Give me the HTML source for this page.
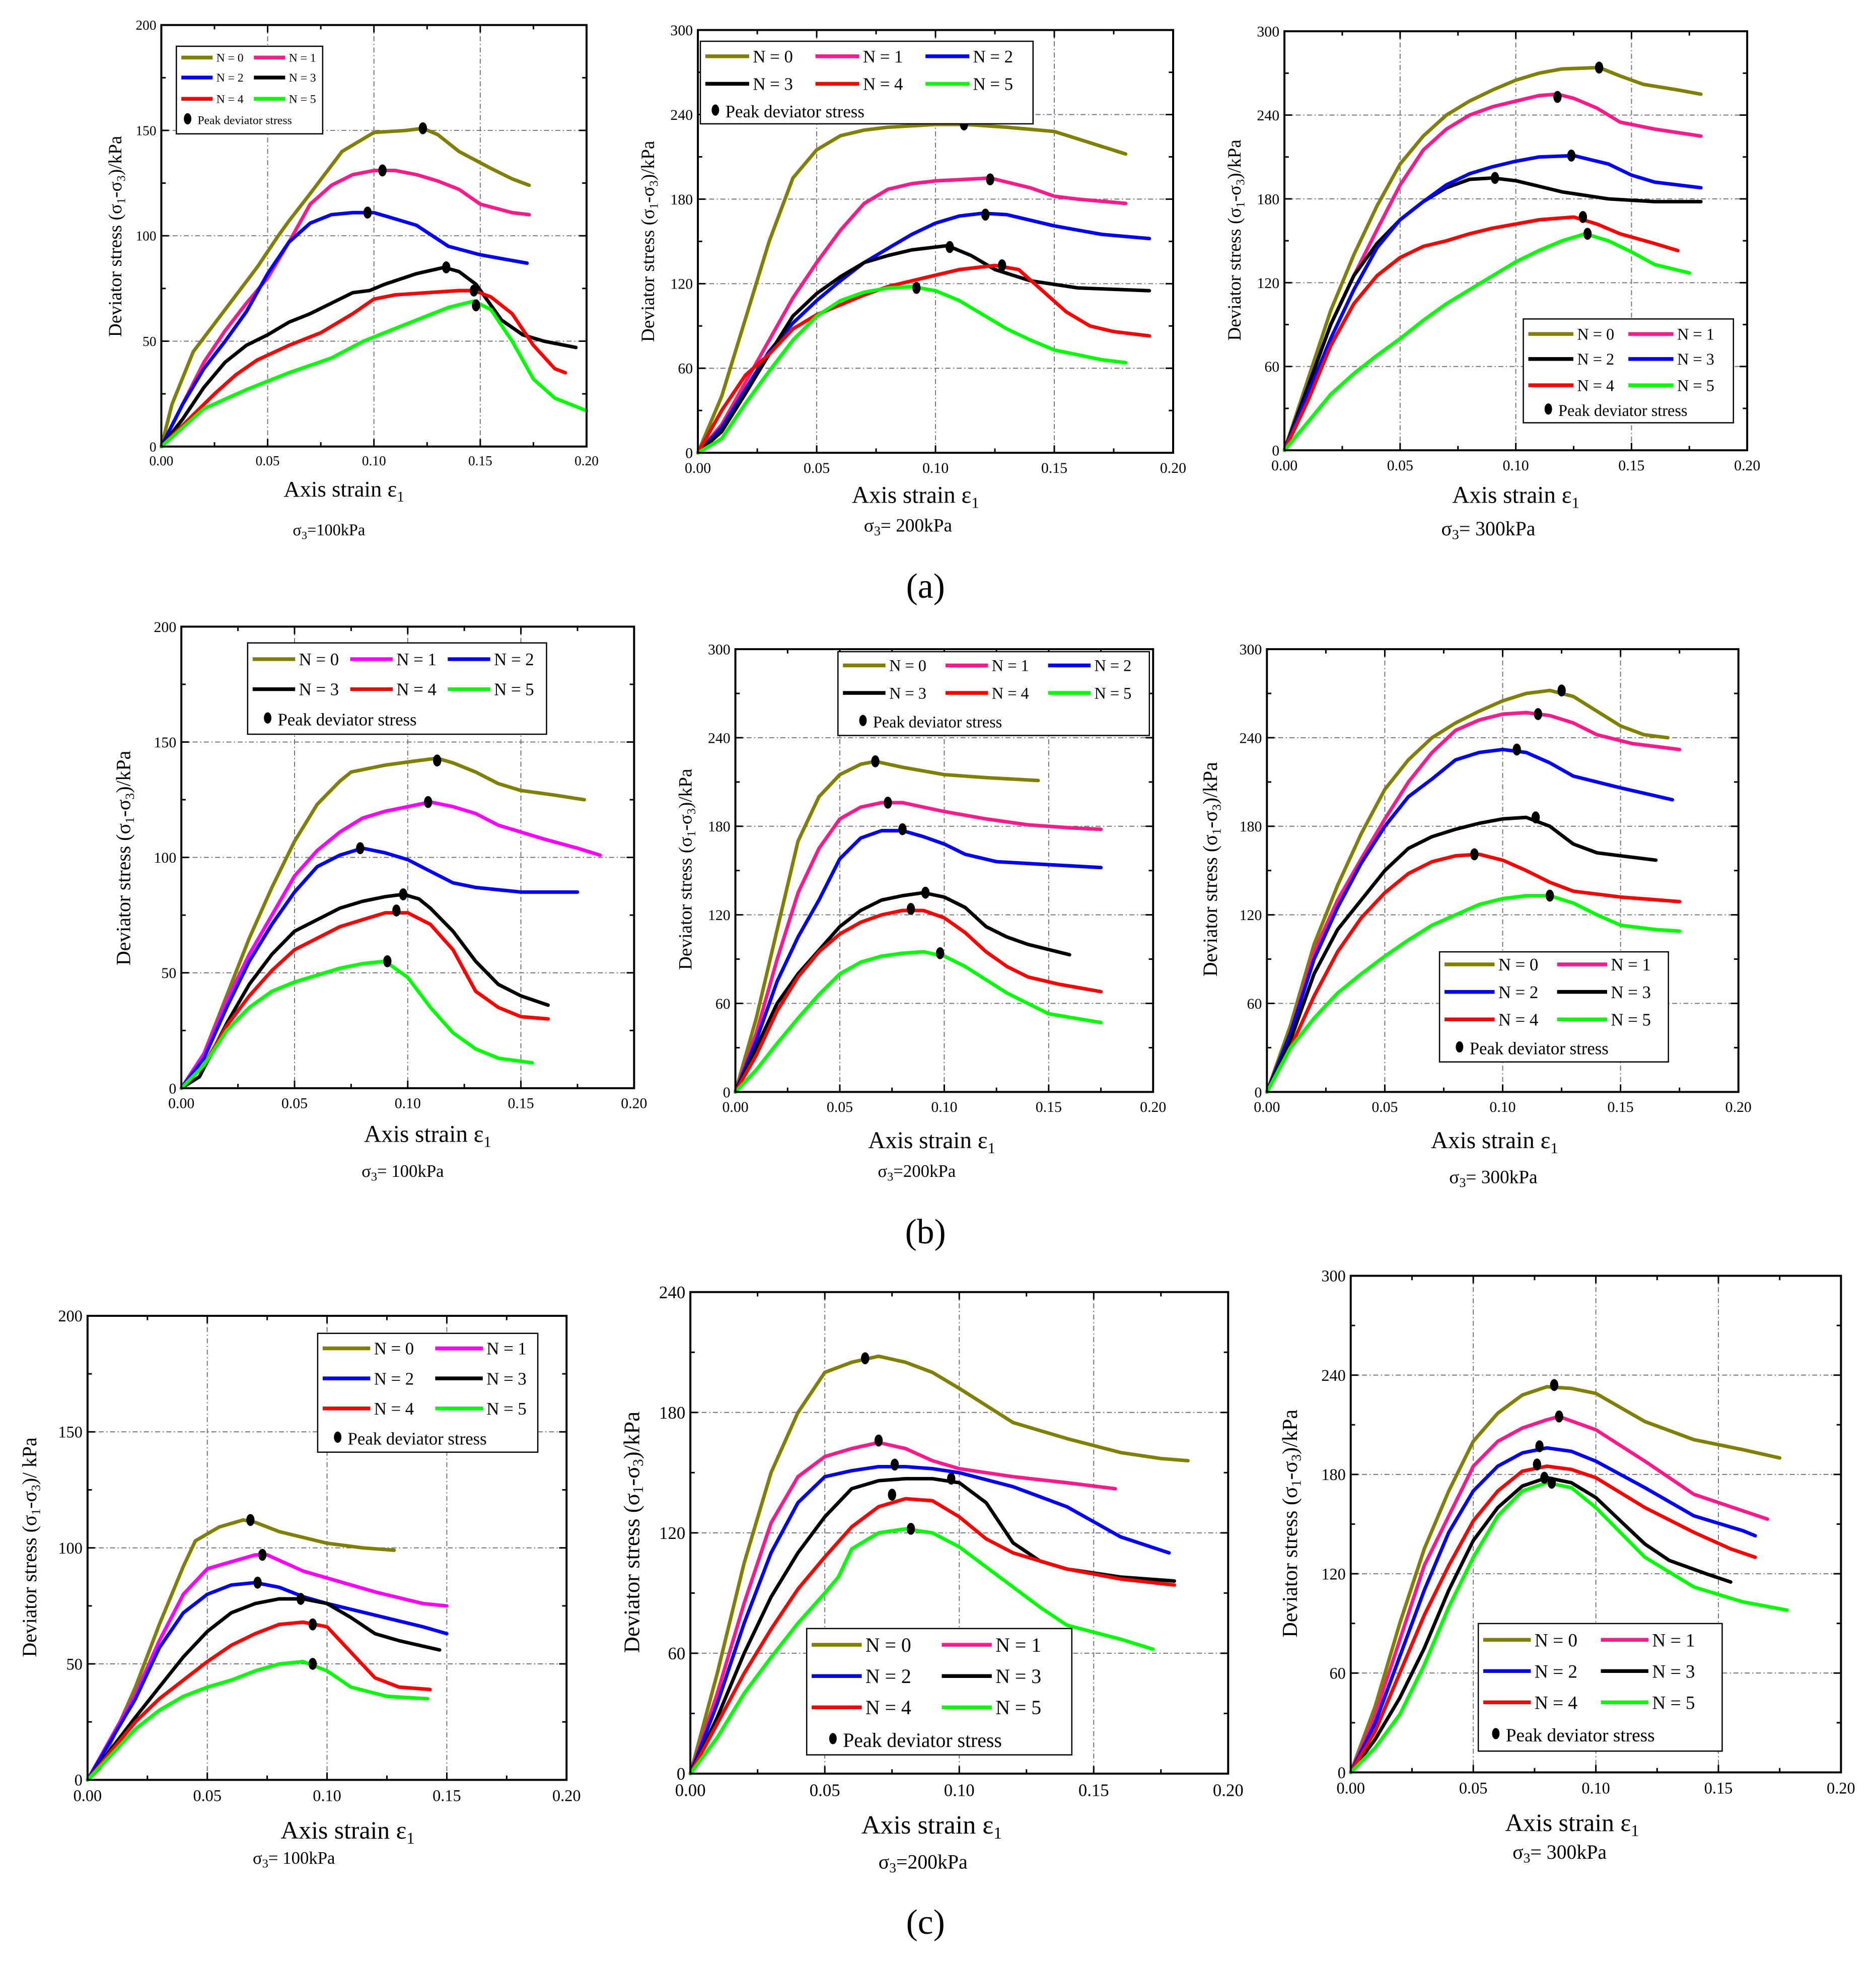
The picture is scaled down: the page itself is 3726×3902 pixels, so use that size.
<!DOCTYPE html>
<html><head><meta charset="utf-8"><style>html,body{margin:0;padding:0;background:#fff}svg{display:block}</style></head>
<body>
<svg id="fig" xmlns="http://www.w3.org/2000/svg" width="3726" height="3902" viewBox="0 0 1500 1571" preserveAspectRatio="none" font-family="'Liberation Serif', serif">
<rect width="1500" height="1571" fill="#fff"/>
</svg>
<script>
// ===== data: [strain, deviator stress] =====
const a1_N0=[[0,0],[0.005,20],[0.015,45],[0.03,65],[0.045,85],[0.055,100],[0.06,107],[0.07,120],[0.085,140],[0.1,149],[0.115,150],[0.123,151],[0.13,148],[0.14,140],[0.155,132],[0.165,127],[0.173,124]];
const a1_N1=[[0,0],[0.01,20],[0.02,40],[0.03,55],[0.04,68],[0.05,80],[0.06,97],[0.07,115],[0.08,124],[0.09,129],[0.1,131],[0.11,131],[0.12,129],[0.13,126],[0.14,122],[0.15,115],[0.165,111],[0.173,110]];
const a1_N2=[[0,0],[0.01,20],[0.02,37],[0.03,50],[0.04,64],[0.05,82],[0.06,97],[0.07,106],[0.08,110],[0.09,111],[0.1,111],[0.11,108],[0.12,105],[0.135,95],[0.15,91],[0.172,87]];
const a1_N3=[[0,0],[0.01,13],[0.02,28],[0.03,40],[0.04,48],[0.05,53],[0.06,59],[0.07,63],[0.08,68],[0.09,73],[0.098,74],[0.105,77],[0.12,82],[0.133,85],[0.14,83],[0.148,77],[0.16,60],[0.17,53],[0.18,50],[0.195,47]];
const a1_N4=[[0,0],[0.015,15],[0.025,25],[0.035,34],[0.045,41],[0.06,48],[0.075,54],[0.09,63],[0.1,70],[0.11,72],[0.14,74],[0.147,74],[0.155,71],[0.165,63],[0.175,48],[0.185,37],[0.19,35]];
const a1_N5=[[0,0],[0.02,18],[0.04,27],[0.06,35],[0.08,42],[0.095,50],[0.11,56],[0.125,62],[0.135,66],[0.147,69],[0.155,65],[0.165,50],[0.175,32],[0.185,23],[0.2,17]];
const a1_peaks=[[0.123,151],[0.104,131],[0.097,111],[0.134,85],[0.147,74],[0.148,67]];

const a2_N0=[[0,0],[0.01,40],[0.02,95],[0.03,150],[0.04,195],[0.05,215],[0.06,225],[0.07,229],[0.08,231],[0.1,233],[0.113,233],[0.13,231],[0.15,228],[0.165,220],[0.18,212]];
const a2_N1=[[0,0],[0.01,20],[0.02,50],[0.03,80],[0.04,110],[0.05,135],[0.06,158],[0.07,177],[0.08,187],[0.09,191],[0.1,193],[0.123,195],[0.14,188],[0.15,182],[0.16,180],[0.18,177]];
const a2_N2=[[0,0],[0.01,18],[0.02,45],[0.03,72],[0.04,92],[0.05,108],[0.06,122],[0.07,135],[0.08,145],[0.09,155],[0.1,163],[0.11,168],[0.12,170],[0.13,169],[0.15,161],[0.17,155],[0.19,152]];
const a2_N3=[[0,0],[0.01,15],[0.02,42],[0.03,70],[0.04,97],[0.05,113],[0.06,125],[0.07,135],[0.08,140],[0.09,144],[0.105,147],[0.115,140],[0.125,130],[0.14,122],[0.16,117],[0.19,115]];
const a2_N4=[[0,0],[0.01,30],[0.02,55],[0.03,70],[0.04,88],[0.05,98],[0.06,105],[0.07,112],[0.08,118],[0.09,122],[0.1,126],[0.11,130],[0.125,133],[0.135,130],[0.145,115],[0.155,100],[0.165,90],[0.175,86],[0.19,83]];
const a2_N5=[[0,0],[0.01,10],[0.02,35],[0.03,58],[0.04,80],[0.05,97],[0.06,108],[0.07,114],[0.08,117],[0.09,118],[0.1,115],[0.11,108],[0.12,98],[0.13,88],[0.14,80],[0.15,73],[0.17,66],[0.18,64]];
const a2_peaks=[[0.112,233],[0.123,194],[0.121,169],[0.106,146],[0.128,133],[0.092,117]];

const a3_N0=[[0,0],[0.01,50],[0.02,100],[0.03,140],[0.04,175],[0.05,205],[0.06,225],[0.07,240],[0.08,250],[0.09,258],[0.1,265],[0.11,270],[0.12,273],[0.136,274],[0.145,268],[0.155,262],[0.17,258],[0.18,255]];
const a3_N1=[[0,0],[0.01,45],[0.02,90],[0.03,125],[0.04,158],[0.05,190],[0.06,215],[0.07,230],[0.08,240],[0.09,246],[0.1,250],[0.11,254],[0.118,255],[0.125,252],[0.135,245],[0.145,235],[0.16,230],[0.18,225]];
const a3_N2=[[0,0],[0.01,45],[0.02,90],[0.03,125],[0.04,148],[0.05,165],[0.06,178],[0.07,188],[0.08,194],[0.09,195],[0.1,193],[0.11,189],[0.12,185],[0.14,180],[0.16,178],[0.18,178]];
const a3_N3=[[0,0],[0.01,40],[0.02,80],[0.03,115],[0.04,145],[0.05,165],[0.06,178],[0.07,190],[0.08,198],[0.09,203],[0.1,207],[0.11,210],[0.125,211],[0.14,205],[0.15,197],[0.16,192],[0.18,188]];
const a3_N4=[[0,0],[0.01,35],[0.02,75],[0.03,105],[0.04,125],[0.05,138],[0.06,146],[0.07,150],[0.08,155],[0.09,159],[0.1,162],[0.11,165],[0.125,167],[0.135,162],[0.145,155],[0.16,148],[0.17,143]];
const a3_N5=[[0,0],[0.01,20],[0.02,40],[0.03,55],[0.04,68],[0.05,80],[0.06,93],[0.07,105],[0.08,115],[0.09,125],[0.1,135],[0.11,143],[0.12,150],[0.13,155],[0.14,150],[0.15,142],[0.16,133],[0.175,127]];
const a3_peaks=[[0.136,274],[0.118,253],[0.091,195],[0.124,211],[0.129,167],[0.131,155]];

const b1_N0=[[0,0],[0.01,15],[0.02,40],[0.03,65],[0.04,87],[0.05,107],[0.06,123],[0.07,133],[0.075,137],[0.09,140],[0.105,142],[0.113,143],[0.12,141],[0.13,137],[0.14,132],[0.15,129],[0.165,127],[0.178,125]];
const b1_N1=[[0,0],[0.01,15],[0.02,38],[0.03,58],[0.04,75],[0.05,92],[0.06,103],[0.07,111],[0.08,117],[0.09,120],[0.1,122],[0.11,124],[0.12,122],[0.13,119],[0.14,114],[0.16,108],[0.175,104],[0.185,101]];
const b1_N2=[[0,0],[0.01,13],[0.02,35],[0.03,55],[0.04,71],[0.05,85],[0.06,96],[0.07,101],[0.08,104],[0.09,102],[0.1,99],[0.11,94],[0.12,89],[0.13,87],[0.15,85],[0.175,85]];
const b1_N3=[[0,0],[0.008,5],[0.02,28],[0.03,45],[0.04,58],[0.05,68],[0.06,73],[0.07,78],[0.08,81],[0.09,83],[0.098,84],[0.105,82],[0.11,78],[0.12,68],[0.13,55],[0.14,45],[0.15,40],[0.162,36]];
const b1_N4=[[0,0],[0.01,10],[0.02,27],[0.03,40],[0.04,51],[0.05,60],[0.06,65],[0.07,70],[0.08,73],[0.09,76],[0.1,76],[0.11,71],[0.12,60],[0.13,42],[0.14,35],[0.15,31],[0.162,30]];
const b1_N5=[[0,0],[0.01,10],[0.02,25],[0.03,35],[0.04,42],[0.05,46],[0.06,49],[0.07,52],[0.08,54],[0.09,55],[0.1,48],[0.11,35],[0.12,24],[0.13,17],[0.14,13],[0.155,11]];
const b1_peaks=[[0.113,142],[0.109,124],[0.079,104],[0.098,84],[0.095,77],[0.091,55]];

const b2_N0=[[0,0],[0.01,50],[0.02,110],[0.03,170],[0.04,200],[0.05,215],[0.06,222],[0.067,224],[0.08,220],[0.1,215],[0.12,213],[0.145,211]];
const b2_N1=[[0,0],[0.01,40],[0.02,90],[0.03,135],[0.04,165],[0.05,185],[0.06,193],[0.07,196],[0.08,196],[0.09,193],[0.1,190],[0.12,185],[0.14,181],[0.16,179],[0.175,178]];
const b2_N2=[[0,0],[0.01,35],[0.02,75],[0.03,105],[0.04,130],[0.05,158],[0.06,172],[0.07,177],[0.08,177],[0.09,173],[0.1,168],[0.11,161],[0.125,156],[0.15,154],[0.175,152]];
const b2_N3=[[0,0],[0.01,30],[0.02,60],[0.03,80],[0.04,96],[0.05,112],[0.06,123],[0.07,130],[0.08,133],[0.09,135],[0.1,132],[0.11,125],[0.12,112],[0.13,105],[0.14,100],[0.16,93]];
const b2_N4=[[0,0],[0.01,25],[0.02,55],[0.03,78],[0.04,95],[0.05,107],[0.06,115],[0.07,120],[0.08,123],[0.09,123],[0.1,118],[0.11,108],[0.12,95],[0.13,85],[0.14,78],[0.155,73],[0.175,68]];
const b2_N5=[[0,0],[0.01,15],[0.02,33],[0.03,50],[0.04,66],[0.05,80],[0.06,88],[0.07,92],[0.08,94],[0.09,95],[0.1,92],[0.11,85],[0.12,76],[0.13,67],[0.14,60],[0.15,53],[0.175,47]];
const b2_peaks=[[0.067,224],[0.073,196],[0.08,178],[0.091,135],[0.084,124],[0.098,94]];

const b3_N0=[[0,0],[0.01,45],[0.02,100],[0.03,140],[0.04,175],[0.05,205],[0.06,225],[0.07,240],[0.08,250],[0.09,258],[0.1,265],[0.11,270],[0.12,272],[0.13,268],[0.14,258],[0.15,248],[0.16,242],[0.17,240]];
const b3_N1=[[0,0],[0.01,40],[0.02,95],[0.03,130],[0.04,158],[0.05,185],[0.06,210],[0.07,230],[0.08,245],[0.09,252],[0.1,256],[0.11,257],[0.12,255],[0.13,250],[0.14,242],[0.155,236],[0.175,232]];
const b3_N2=[[0,0],[0.01,40],[0.02,90],[0.03,125],[0.04,155],[0.05,180],[0.06,200],[0.07,212],[0.08,225],[0.09,230],[0.1,232],[0.11,230],[0.12,223],[0.13,214],[0.15,206],[0.172,198]];
const b3_N3=[[0,0],[0.01,35],[0.02,80],[0.03,110],[0.04,130],[0.05,150],[0.06,165],[0.07,173],[0.08,178],[0.09,182],[0.1,185],[0.11,186],[0.12,180],[0.13,168],[0.14,162],[0.15,160],[0.165,157]];
const b3_N4=[[0,0],[0.01,30],[0.02,65],[0.03,95],[0.04,118],[0.05,135],[0.06,148],[0.07,156],[0.08,160],[0.09,161],[0.1,157],[0.11,150],[0.12,142],[0.13,136],[0.15,132],[0.175,129]];
const b3_N5=[[0,0],[0.01,30],[0.02,50],[0.03,67],[0.04,80],[0.05,92],[0.06,103],[0.07,113],[0.08,120],[0.09,127],[0.1,131],[0.11,133],[0.12,133],[0.13,128],[0.14,120],[0.15,113],[0.165,110],[0.175,109]];
const b3_peaks=[[0.125,272],[0.115,256],[0.106,232],[0.114,186],[0.088,161],[0.12,133]];

const c1_N0=[[0,0],[0.005,5],[0.02,40],[0.03,67],[0.04,92],[0.045,103],[0.055,109],[0.065,112],[0.07,111],[0.08,107],[0.1,102],[0.115,100],[0.128,99]];
const c1_N1=[[0,0],[0.02,37],[0.03,60],[0.04,80],[0.05,91],[0.06,94],[0.07,97],[0.075,97],[0.09,90],[0.1,87],[0.12,81],[0.14,76],[0.15,75]];
const c1_N2=[[0,0],[0.02,35],[0.03,57],[0.04,72],[0.05,80],[0.06,84],[0.07,85],[0.08,83],[0.09,79],[0.1,76],[0.12,71],[0.14,66],[0.15,63]];
const c1_N3=[[0,0],[0.02,27],[0.03,40],[0.04,53],[0.05,64],[0.06,72],[0.07,76],[0.08,78],[0.09,78],[0.1,76],[0.11,70],[0.12,63],[0.13,60],[0.147,56]];
const c1_N4=[[0,0],[0.02,25],[0.03,35],[0.04,43],[0.05,51],[0.06,58],[0.07,63],[0.08,67],[0.09,68],[0.1,66],[0.11,55],[0.12,44],[0.13,40],[0.143,39]];
const c1_N5=[[0,0],[0.02,22],[0.03,30],[0.04,36],[0.05,40],[0.06,43],[0.07,47],[0.08,50],[0.09,51],[0.1,47],[0.11,40],[0.125,36],[0.142,35]];
const c1_peaks=[[0.068,112],[0.073,97],[0.071,85],[0.089,78],[0.094,67],[0.094,50]];

const c2_N0=[[0,0],[0.01,50],[0.02,105],[0.03,150],[0.04,180],[0.05,200],[0.06,205],[0.07,208],[0.08,205],[0.09,200],[0.1,192],[0.12,175],[0.14,167],[0.16,160],[0.175,157],[0.185,156]];
const c2_N1=[[0,0],[0.01,40],[0.02,85],[0.03,125],[0.04,148],[0.05,158],[0.06,162],[0.07,165],[0.08,162],[0.09,156],[0.1,152],[0.12,148],[0.14,145],[0.158,142]];
const c2_N2=[[0,0],[0.01,35],[0.02,75],[0.03,110],[0.04,135],[0.05,148],[0.06,151],[0.07,153],[0.08,153],[0.09,152],[0.1,150],[0.12,143],[0.14,133],[0.16,118],[0.178,110]];
const c2_N3=[[0,0],[0.01,28],[0.02,60],[0.03,88],[0.04,110],[0.05,128],[0.06,142],[0.07,146],[0.08,147],[0.09,147],[0.1,145],[0.11,135],[0.12,115],[0.13,106],[0.14,102],[0.16,98],[0.18,96]];
const c2_N4=[[0,0],[0.01,25],[0.02,50],[0.03,72],[0.04,92],[0.05,108],[0.06,123],[0.07,133],[0.08,137],[0.09,136],[0.1,128],[0.11,117],[0.12,110],[0.14,102],[0.16,97],[0.18,94]];
const c2_N5=[[0,0],[0.01,18],[0.02,40],[0.03,58],[0.04,75],[0.05,90],[0.055,98],[0.06,112],[0.07,120],[0.08,122],[0.09,120],[0.1,113],[0.11,103],[0.12,93],[0.13,83],[0.14,74],[0.16,67],[0.172,62]];
const c2_peaks=[[0.065,207],[0.07,166],[0.076,154],[0.097,147],[0.075,139],[0.082,122]];

const c3_N0=[[0,0],[0.01,40],[0.02,90],[0.03,135],[0.04,170],[0.05,200],[0.06,217],[0.07,228],[0.08,233],[0.09,232],[0.1,229],[0.12,212],[0.14,201],[0.16,195],[0.175,190]];
const c3_N1=[[0,0],[0.01,35],[0.02,80],[0.03,125],[0.04,155],[0.05,185],[0.06,200],[0.07,208],[0.08,213],[0.085,215],[0.1,207],[0.12,188],[0.14,168],[0.16,158],[0.17,153]];
const c3_N2=[[0,0],[0.01,30],[0.02,70],[0.03,110],[0.04,145],[0.05,170],[0.06,185],[0.07,193],[0.08,196],[0.09,194],[0.1,188],[0.12,172],[0.14,155],[0.16,146],[0.165,143]];
const c3_N3=[[0,0],[0.01,20],[0.02,45],[0.03,75],[0.04,110],[0.05,140],[0.06,160],[0.07,173],[0.08,178],[0.09,175],[0.1,166],[0.11,152],[0.12,138],[0.13,128],[0.145,120],[0.155,115]];
const c3_N4=[[0,0],[0.01,25],[0.02,60],[0.03,95],[0.04,125],[0.05,152],[0.06,170],[0.07,182],[0.08,185],[0.09,183],[0.1,178],[0.12,160],[0.14,145],[0.155,135],[0.165,130]];
const c3_N5=[[0,0],[0.01,15],[0.02,35],[0.03,65],[0.04,100],[0.05,130],[0.06,155],[0.07,170],[0.08,175],[0.09,172],[0.1,160],[0.12,130],[0.14,112],[0.16,103],[0.178,98]];
const c3_peaks=[[0.083,234],[0.085,215],[0.077,197],[0.076,186],[0.079,178],[0.082,175]];

const xTickLabels=["0.00","0.05","0.10","0.15","0.20"];
const xTickValues=[0,0.05,0.1,0.15,0.2];
const yTicks200=[0,50,100,150,200];
const yTicks300=[60,120,180,240,300];
const yTicks240=[60,120,180,240];

const OL="#808000",PK="#ff1a8c",MG="#ff00ff",BL="#0000ff",BK="#000000",RD="#ff0000",GR="#00ff00";
const NS="http://www.w3.org/2000/svg";
const svg=document.getElementById('fig');
function el(tag,attrs,parent){const e=document.createElementNS(NS,tag);for(const k in attrs)e.setAttribute(k,attrs[k]);(parent||svg).appendChild(e);return e;}

function drawPanel(p){
  const g=el('g',{});
  
  
  const sx=v=>p.L+v/0.2*(p.R-p.L);
  const sy=v=>p.B-v/p.ymax*(p.B-p.T);
  // grid
  [0.05,0.1,0.15].forEach(v=>{const l=el('line',{x1:sx(v),x2:sx(v),y1:p.T,y2:p.B,stroke:'#777','stroke-width':0.8,'stroke-dasharray':'4 2 1 2'},g);
    });
  p.yticks.forEach(v=>{if(v>0&&v<p.ymax){const l=el('line',{x1:p.L,x2:p.R,y1:sy(v),y2:sy(v),stroke:'#777','stroke-width':0.8,'stroke-dasharray':'4 2 1 2'},g);
    }});
  // series
  p.series.forEach((s,i)=>{
    const pts=s.map(d=>sx(d[0]).toFixed(1)+','+sy(d[1]).toFixed(1)).join(' ');
    const pl=el('polyline',{points:pts,fill:'none',stroke:p.colors[i],'stroke-width':2.8,'stroke-linejoin':'round','stroke-linecap':'round'},g);
    
    
  });
  p.peaks.forEach((d,i)=>{
    const e=el('ellipse',{cx:sx(d[0]),cy:sy(d[1]),rx:3.3,ry:4.8,fill:'#000'},g);
    
    
  });
  // frame
  const fr=el('rect',{x:p.L,y:p.T,width:p.R-p.L,height:p.B-p.T,fill:'none',stroke:'#000','stroke-width':1.6},g);
  
  // ticks
  for(let v=0;v<=0.2001;v+=0.025){const x=sx(v),len=(Math.round(v*1000)%50===0)?6:3.5;
    el('line',{x1:x,x2:x,y1:p.B,y2:p.B-len,stroke:'#000','stroke-width':1.2},g);
    el('line',{x1:x,x2:x,y1:p.T,y2:p.T+len,stroke:'#000','stroke-width':1.2},g);}
  const step=p.yticks[1]-p.yticks[0];
  for(let v=0;v<=p.ymax+0.01;v+=step/2){const y=sy(v),len=(Math.round(v)%step===0)?6:3.5;
    el('line',{x1:p.L,x2:p.L+len,y1:y,y2:y,stroke:'#000','stroke-width':1.2},g);
    el('line',{x1:p.R,x2:p.R-len,y1:y,y2:y,stroke:'#000','stroke-width':1.2},g);}
  xTickLabels.forEach((t,i)=>{const tx=el('text',{x:sx(xTickValues[i]),y:p.B+p.tf+4,'font-size':p.tf,'text-anchor':'middle'},g);tx.textContent=t;
    });
  const yl=[0].concat(p.yticks);
  yl.forEach(v=>{const tx=el('text',{x:p.L-4,y:sy(v)+p.tf*0.35,'font-size':p.tf,'text-anchor':'end'},g);tx.textContent=v.toFixed(0)==='0'?(p.zeroLabel||'0'):v;
    });
  // axis titles
  const xt=el('text',{x:p.xl[0],y:p.xl[1],'font-size':p.xl[2],'text-anchor':'middle'},g);
  
  xt.innerHTML='Axis strain  ε<tspan font-size="'+(p.xl[2]*0.65)+'" dy="4">1</tspan>';
  const st=el('text',{x:p.sl[0],y:p.sl[1],'font-size':p.sl[2],'text-anchor':'middle'},g);
  
  st.innerHTML='σ<tspan font-size="'+(p.sl[2]*0.7)+'" dy="3">3</tspan><tspan dy="-3">'+p.sl[3]+'</tspan>';
  const yt=el('text',{x:0,y:0,'font-size':p.yl[2],'text-anchor':'middle',transform:'translate('+p.yl[0]+','+p.yl[1]+') rotate(-90)'},g);
  
  const sub=p.yl[2]*0.65;
  yt.innerHTML='Deviator stress  (σ<tspan font-size="'+sub+'" dy="3">1</tspan><tspan dy="-3">-σ</tspan><tspan font-size="'+sub+'" dy="3">3</tspan><tspan dy="-3">)'+p.yl[3]+'kPa</tspan>';
  // legend
  const lg=p.lg;
  const lgG=el('g',{},g);
  
  el('rect',{x:lg.x,y:lg.y,width:lg.w,height:lg.h,fill:'#fff',stroke:'#000','stroke-width':1},lgG);
  const labels=p.labels||["N = 0","N = 1","N = 2","N = 3","N = 4","N = 5"];
  labels.forEach((t,i)=>{
    const r=Math.floor(i/lg.cols),c=i%lg.cols;
    const x0=lg.x+4+c*lg.cw,y0=lg.rows[r];
    el('line',{x1:x0,x2:x0+lg.ll,y1:y0,y2:y0,stroke:p.colors[i],'stroke-width':3},lgG);
    const tx=el('text',{x:x0+lg.ll+3,y:y0+lg.fs*0.35,'font-size':lg.fs},lgG);tx.textContent=t;
    
  });
  const py=lg.rows[lg.rows.length-1];
  el('ellipse',{cx:lg.x+lg.pk,cy:py-1,rx:3,ry:4.5,fill:'#000'},lgG);
  const pt=el('text',{x:lg.x+lg.pk+8,y:py+lg.fs*0.35,'font-size':lg.fs},lgG);pt.textContent='Peak deviator stress';
  
}

drawPanel({id:'a1',L:129,R:469,T:20,B:357,ymax:200,yticks:[50,100,150,200],tf:11,
  series:[a1_N0,a1_N1,a1_N2,a1_N3,a1_N4,a1_N5],peaks:a1_peaks,colors:[OL,PK,BL,BK,RD,GR],
  xl:[275,397,18],sl:[263,428,13,'=100kPa'],yl:[97,189,15,'/'],
  lg:{x:141,y:37,w:117,h:70,cols:2,cw:58,rows:[46,62,79,96],fs:9.5,ll:25,pk:9}});
drawPanel({id:'a2',L:558,R:938,T:24,B:362,ymax:300,yticks:yTicks300,tf:12,zeroLabel:'',
  series:[a2_N0,a2_N1,a2_N2,a2_N3,a2_N4,a2_N5],peaks:a2_peaks,colors:[OL,PK,BL,BK,RD,GR],
  xl:[732,402,19],sl:[726,425,15,'= 200kPa'],yl:[523,193,15,'/'],
  lg:{x:560,y:33,w:266,h:66,cols:3,cw:88,rows:[45,67,89],fs:14,ll:35,pk:12}});
drawPanel({id:'a3',L:1027,R:1397,T:25,B:360,ymax:300,yticks:yTicks300,tf:12,zeroLabel:'',
  series:[a3_N0,a3_N1,a3_N2,a3_N3,a3_N4,a3_N5],peaks:a3_peaks,colors:[OL,PK,BK,BL,RD,GR],
  labels:["N = 0","N = 1","N = 2","N = 3","N = 4","N = 5"],
  xl:[1212,402,19],sl:[1190,428,16,'= 300kPa'],yl:[992,192,15,'/'],
  lg:{x:1218,y:255,w:168,h:83,cols:2,cw:80,rows:[267,287,308,328],fs:13,ll:36,pk:20}});
drawPanel({id:'b1',L:145,R:507,T:501,B:870,ymax:200,yticks:[50,100,150,200],tf:12,
  series:[b1_N0,b1_N1,b1_N2,b1_N3,b1_N4,b1_N5],peaks:b1_peaks,colors:[OL,MG,BL,BK,RD,GR],
  xl:[342,913,19],sl:[322,941,14,'= 100kPa'],yl:[104,686,16,'/'],
  lg:{x:198,y:514,w:239,h:73,cols:3,cw:78,rows:[527,551,575],fs:14,ll:34,pk:16}});
drawPanel({id:'b2',L:588,R:922,T:519,B:873,ymax:300,yticks:yTicks300,tf:12,zeroLabel:'',
  series:[b2_N0,b2_N1,b2_N2,b2_N3,b2_N4,b2_N5],peaks:b2_peaks,colors:[OL,PK,BL,BK,RD,GR],
  xl:[745,918,19],sl:[733,941,14,'=200kPa'],yl:[553,695,15,'/'],
  lg:{x:670,y:521,w:249,h:67,cols:3,cw:82,rows:[532,554,577],fs:13,ll:34,pk:20}});
drawPanel({id:'b3',L:1013,R:1390,T:519,B:873,ymax:300,yticks:yTicks300,tf:12,zeroLabel:'',
  series:[b3_N0,b3_N1,b3_N2,b3_N3,b3_N4,b3_N5],peaks:b3_peaks,colors:[OL,PK,BL,BK,RD,GR],
  xl:[1195,918,19],sl:[1194,946,15,'= 300kPa'],yl:[973,695,16,'/'],
  lg:{x:1151,y:761,w:183,h:88,cols:2,cw:90,rows:[771,793,815,838],fs:14,ll:40,pk:16}});
drawPanel({id:'c1',L:70,R:453,T:1052,B:1423,ymax:200,yticks:[50,100,150,200],tf:13,
  series:[c1_N0,c1_N1,c1_N2,c1_N3,c1_N4,c1_N5],peaks:c1_peaks,colors:[OL,MG,BL,BK,RD,GR],
  xl:[278,1470,20],sl:[235,1490,14,'= 100kPa'],yl:[29,1237,16,'/ '],
  lg:{x:254,y:1066,w:176,h:95,cols:2,cw:90,rows:[1078,1102,1126,1150],fs:14,ll:38,pk:16}});
drawPanel({id:'c2',L:552,R:982,T:1033,B:1418,ymax:240,yticks:yTicks240,tf:14,zeroLabel:'',
  series:[c2_N0,c2_N1,c2_N2,c2_N3,c2_N4,c2_N5],peaks:c2_peaks,colors:[OL,PK,BL,BK,RD,GR],
  xl:[745,1466,21],sl:[738,1494,16,'=200kPa'],yl:[511,1225,18,'/'],
  lg:{x:645,y:1302,w:212,h:101,cols:2,cw:104,rows:[1315,1340,1365,1391],fs:16,ll:40,pk:21}});
drawPanel({id:'c3',L:1080,R:1472,T:1020,B:1417,ymax:300,yticks:yTicks300,tf:13,zeroLabel:'',
  series:[c3_N0,c3_N1,c3_N2,c3_N3,c3_N4,c3_N5],peaks:c3_peaks,colors:[OL,PK,BL,BK,RD,GR],
  xl:[1257,1464,20],sl:[1247,1486,16,'= 300kPa'],yl:[1037,1218,17,'/'],
  lg:{x:1182,y:1298,w:195,h:102,cols:2,cw:94,rows:[1311,1336,1361,1387],fs:15,ll:38,pk:14}});

[['(a)',740,478],['(b)',740,994],['(c)',740,1546]].forEach(d=>{
  const t=el('text',{x:d[1],y:d[2],'font-size':28,'text-anchor':'middle'});
  t.textContent=d[0];
  
  
});
</script>
</body></html>
